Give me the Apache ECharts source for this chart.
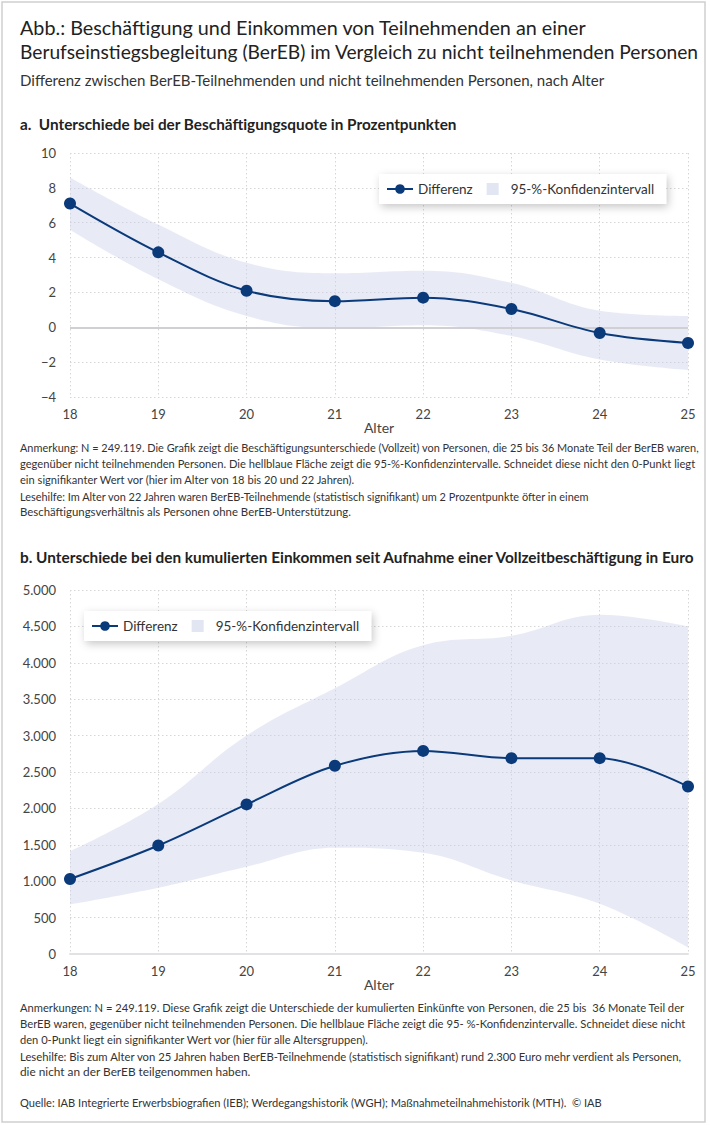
<!DOCTYPE html>
<html><head><meta charset="utf-8">
<script src="https://cdn.jsdelivr.net/npm/echarts@6/dist/echarts.min.js"></script>
<style>html,body{margin:0;padding:0;background:#fff}#c{width:710px;height:1125px}</style>
</head><body><div id="c"></div>
<script>
const ages = ['18', '19', '20', '21', '22', '23', '24', '25'];
// Panel a: Beschäftigungsquote (Prozentpunkte)
const diffA   = [7.1, 4.3, 2.1, 1.5, 1.7, 1.05, -0.33, -0.9];
const ciLowA  = [5.6, 2.75, 0.65, -0.05, 0.12, -0.5, -1.85, -2.45];
const ciHighA = [8.6, 5.9, 3.7, 3.1, 3.25, 2.55, 0.95, 0.65];
// Panel b: kumulierte Einkommen (Euro)
const diffB   = [1030, 1490, 2055, 2585, 2790, 2690, 2690, 2300];
const ciLowB  = [680, 910, 1200, 1460, 1390, 1010, 690, 90];
const ciHighB = [1410, 2060, 3000, 3650, 4240, 4370, 4660, 4500];

const NAVY = '#0a3a7a';
const BAND = 'rgba(203,210,235,0.45)';
const BANDLEG = '#e2e5f2';
const FONT = 'Lato';

function widths(lo, hi) { return lo.map((v, i) => hi[i] - v); }

function mkSeries(idx, diff, lo, hi, zeroLine) {
  return [
    { type: 'line', name: 'lo' + idx, xAxisIndex: idx, yAxisIndex: idx, stack: 'ci' + idx, stackStrategy: 'all',
      data: lo, smooth: 0.4, symbol: 'none', lineStyle: { opacity: 0 }, silent: true, z: 1,
      markLine: zeroLine ? { silent: true, symbol: 'none', label: { show: false },
        lineStyle: { color: '#cfcfd4', width: 2, type: 'solid' }, data: [{ yAxis: 0 }] } : undefined },
    { type: 'line', name: '95-%-Konfidenzintervall', xAxisIndex: idx, yAxisIndex: idx, stack: 'ci' + idx, stackStrategy: 'all',
      data: widths(lo, hi), smooth: 0.4, symbol: 'none', lineStyle: { opacity: 0 },
      areaStyle: { color: BAND, opacity: 1 }, itemStyle: { color: BANDLEG }, silent: true, z: 2 },
    { type: 'line', name: 'Differenz', xAxisIndex: idx, yAxisIndex: idx, data: diff, smooth: 0.35,
      symbol: 'circle', symbolSize: 12, lineStyle: { color: NAVY, width: 2 }, itemStyle: { color: NAVY }, z: 5 }
  ];
}

const deFmt = v => v.toLocaleString('de-DE');
const minusFmt = v => String(v).replace('-', '−');
const gridLine = { show: true, lineStyle: { color: '#d6d6d6', type: [1.5, 2.5], width: 1 } };

function xAxis(idx, bottomLine) {
  return { type: 'category', gridIndex: idx, data: ages, boundaryGap: false,
    name: 'Alter', nameLocation: 'middle', nameGap: 22,
    nameTextStyle: { color: '#444', fontSize: 14, fontFamily: FONT },
    axisLine: { show: bottomLine, lineStyle: { color: '#e2e2e6', width: 2 } },
    axisTick: { show: false },
    axisLabel: { color: '#444', fontSize: 13, fontFamily: FONT, margin: 10, interval: 0 },
    splitLine: Object.assign({ interval: 0 }, gridLine) };
}
function yAxis(idx, min, max, interval, fmt) {
  return { type: 'value', gridIndex: idx, min, max, interval,
    axisLine: { show: false }, axisTick: { show: false },
    axisLabel: { color: '#444', fontSize: 13, fontFamily: FONT, margin: 14, formatter: fmt },
    splitLine: gridLine };
}
function legend(left, top) {
  return { show: true, left, top, orient: 'horizontal',
    data: [ { name: 'Differenz' },
            { name: '95-%-Konfidenzintervall', icon: 'path://M0,0H10V10H0Z', itemStyle: { color: BANDLEG } } ],
    itemWidth: 26, itemHeight: 12, itemGap: 14, symbolKeepAspect: true,
    textStyle: { color: '#333', fontSize: 13.5, fontFamily: FONT },
    backgroundColor: '#fff', padding: [8, 12, 8, 7],
    shadowBlur: 8, shadowColor: 'rgba(0,0,0,0.22)', shadowOffsetX: 2, shadowOffsetY: 3,
    selectedMode: false };
}

// text fitted horizontally to the reference line width
const mctx = document.createElement('canvas').getContext('2d');
function L(text, cy, size, right, opts = {}) {
  const weight = opts.fontWeight || 'normal';
  mctx.font = `${weight} ${size}px ${FONT}`;
  const w = mctx.measureText(text).width;
  const sx = right ? (right - 20) / w : 1;
  return { type: 'text', x: 20, y: cy, scaleX: sx, silent: true,
    style: Object.assign({ text, fontSize: size, fontFamily: FONT, fontWeight: weight, fill: '#333',
      verticalAlign: 'middle', align: 'left' }, opts) };
}

const option = {
  animation: false,
  backgroundColor: '#fff',
  grid: [
    { left: 70, right: 22, top: 153, bottom: 1125 - 397 },
    { left: 70, right: 22, top: 590, bottom: 1125 - 954 }
  ],
  xAxis: [xAxis(0, false), xAxis(1, true)],
  yAxis: [yAxis(0, -4, 10, 2, minusFmt), yAxis(1, 0, 5000, 500, deFmt)],
  legend: [legend(379, 174), legend(84, 611)],
  series: [].concat(mkSeries(0, diffA, ciLowA, ciHighA, true), mkSeries(1, diffB, ciLowB, ciHighB, false)),
  graphic: [
    { type: 'rect', x: 2, y: 2, silent: true, shape: { width: 703, height: 1120 },
      style: { fill: 'none', stroke: '#cfcfcf', lineWidth: 1.5 } },
    L('Abb.: Beschäftigung und Einkommen von Teilnehmenden an einer', 27, 20, 587, { fill: '#222' }),
    L('Berufseinstiegsbegleitung (BerEB) im Vergleich zu nicht teilnehmenden Personen', 51, 20, 699, { fill: '#222' }),
    L('Differenz zwischen BerEB-Teilnehmenden und nicht teilnehmenden Personen, nach Alter', 80, 15, 605),
    L('a.  Unterschiede bei der Beschäftigungsquote in Prozentpunkten', 124, 14.5, 457, { fontWeight: 'bold', fill: '#222' }),
    L('Anmerkung: N = 249.119. Die Grafik zeigt die Beschäftigungsunterschiede (Vollzeit) von Personen, die 25 bis 36 Monate Teil der BerEB waren,', 447, 12, 700),
    L('gegenüber nicht teilnehmenden Personen. Die hellblaue Fläche zeigt die 95-%-Konfidenzintervalle. Schneidet diese nicht den 0-Punkt liegt', 463, 12, 696),
    L('ein signifikanter Wert vor (hier im Alter von 18 bis 20 und 22 Jahren).', 479, 12, 357),
    L('Lesehilfe: Im Alter von 22 Jahren waren BerEB-Teilnehmende (statistisch signifikant) um 2 Prozentpunkte öfter in einem', 496, 12, 591),
    L('Beschäftigungsverhältnis als Personen ohne BerEB-Unterstützung.', 511, 12, 351),
    L('b. Unterschiede bei den kumulierten Einkommen seit Aufnahme einer Vollzeitbeschäftigung in Euro', 557, 14.5, 695, { fontWeight: 'bold', fill: '#222' }),
    L('Anmerkungen: N = 249.119. Diese Grafik zeigt die Unterschiede der kumulierten Einkünfte von Personen, die 25 bis  36 Monate Teil der', 1007, 12, 686),
    L('BerEB waren, gegenüber nicht teilnehmenden Personen. Die hellblaue Fläche zeigt die 95- %-Konfidenzintervalle. Schneidet diese nicht', 1023, 12, 686),
    L('den 0-Punkt liegt ein signifikanter Wert vor (hier für alle Altersgruppen).', 1039, 12, 370),
    L('Lesehilfe: Bis zum Alter von 25 Jahren haben BerEB-Teilnehmende (statistisch signifikant) rund 2.300 Euro mehr verdient als Personen,', 1056, 12, 684),
    L('die nicht an der BerEB teilgenommen haben.', 1071, 12, 251),
    L('Quelle: IAB Integrierte Erwerbsbiografien (IEB); Werdegangshistorik (WGH); Maßnahmeteilnahmehistorik (MTH).  © IAB', 1102, 12, 602)
  ]
};
const chart = echarts.init(document.getElementById('c'), null, { renderer: 'svg', width: 710, height: 1125 });
chart.setOption(option);
</script></body></html>
